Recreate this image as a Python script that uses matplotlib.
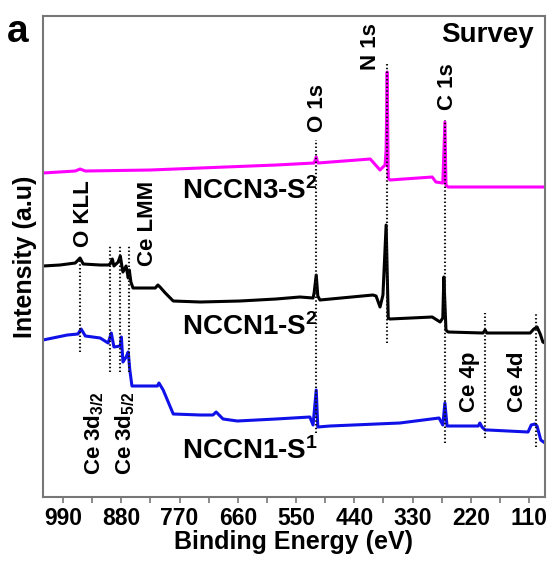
import numpy as np
import matplotlib.pyplot as plt

plt.rcParams['font.family'] = ['Liberation Sans', 'DejaVu Sans']
plt.rcParams['font.weight'] = 'bold'
plt.rcParams['mathtext.fontset'] = 'custom'
plt.rcParams['mathtext.rm'] = 'Liberation Sans:bold'
plt.rcParams['mathtext.bf'] = 'Liberation Sans:bold'
plt.rcParams['mathtext.it'] = 'Liberation Sans:bold'
plt.rcParams['mathtext.default'] = 'rm'

# Bindungsenergie [eV] und Intensitaet [a.u.]
ev_nccn3_s2 = [1028, 967, 958, 948, 826, 731, 588, 516, 512, 509, 410, 391.5, 382, 380,
               378, 376, 373, 293, 286, 273, 269, 267, 263, 80]
int_nccn3_s2 = [324, 326, 328, 326, 327, 329, 332, 334, 340, 334, 338, 327, 332, 347,
                425, 319, 317, 320, 315, 314, 375, 312, 310, 310]

ev_nccn1_s2 = [1028, 996, 967, 958, 952, 920, 905, 901, 897, 894, 886, 882, 879, 877,
               871, 867, 865, 862, 858, 816, 811, 807, 797, 782, 731, 656, 588, 543,
               518, 516, 512, 509, 505, 405, 399, 391.5, 386, 380, 376, 373, 293, 278,
               273, 271, 267, 263, 197, 193, 190, 108, 101, 95, 89, 84, 80]
int_nccn1_s2 = [231, 232, 234, 239, 233, 232, 232, 233, 238, 231, 235, 241, 231, 225,
                231, 219, 227, 215, 209, 209, 212, 210, 204, 196, 195, 196, 198, 200,
                199, 204, 222, 201, 197, 202, 201, 190, 202, 272, 179, 178, 180, 175,
                179, 220, 167, 165, 164, 167, 164, 164, 168, 170, 163, 155, 154]

ev_nccn1_s1 = [1028, 982, 962, 956, 948, 920, 905, 899, 894, 882, 880, 877, 871, 867,
               864, 860, 812, 809, 801, 782, 731, 707, 701, 688, 661, 588, 524, 518,
               512, 509, 486, 354, 280, 273, 269, 265, 206, 203, 199, 193, 188, 112,
               106, 99, 95, 88, 80]
int_nccn1_s1 = [157, 162, 163, 168, 161, 159, 154, 164, 150, 151, 160, 135, 140, 145,
                127, 111, 111, 114, 107, 83, 82, 82, 85, 78, 76, 78, 80, 72,
                107, 70, 71, 74, 79, 72, 94, 71, 71, 74, 70, 67, 67, 65,
                72, 73, 71, 57, 54]

# Peaklagen fuer die gepunkteten Hilfslinien
peak_ev = [958, 901, 882, 865, 512, 378, 269, 193, 97]
peak_lo = [145, 125, 125, 125, 64, 154, 54, 59, 50]
peak_hi = [239, 252, 252, 252, 357, 435, 377, 184, 184]

tick_values = [990, 880, 770, 660, 550, 440, 330, 220, 110]

fig = plt.figure(figsize=(5.56, 5.64), dpi=100)
ax = fig.add_axes([0.0773, 0.1188, 0.9029, 0.8528])

ax.plot(ev_nccn3_s2, int_nccn3_s2, color='#ff00ff', lw=2.2)
ax.plot(ev_nccn1_s2, int_nccn1_s2, color='black', lw=2.2)
ax.plot(ev_nccn1_s1, int_nccn1_s1, color='#1010e8', lw=2.2)

for e, lo, hi in zip(peak_ev, peak_lo, peak_hi):
    ax.plot([e, e], [lo, hi], color='#111111', lw=1.5, linestyle=(0, (0.7, 1.1)), zorder=3)

# Beschriftungen der Peaks
kw = dict(rotation=90, ha='center', va='center', fontsize=16, fontweight='bold')
ax.text(952, 283, 'O KLL', **kw)
ax.text(831, 274, 'Ce LMM', **kw)
ax.text(932, 64, 'Ce 3d$_{3/2}$', **kw)
ax.text(873, 64, 'Ce 3d$_{5/2}$', **kw)
ax.text(510, 389, 'O 1s', **kw)
ax.text(410, 450, 'N 1s', **kw)
ax.text(265, 410, 'C 1s', **kw)
ax.text(222, 115, 'Ce 4p', **kw)
ax.text(131, 115, 'Ce 4d', **kw)

ax.text(189, 462, 'Survey', ha='center', va='center', fontsize=20, fontweight='bold')
ax.text(765, 306, 'NCCN3-S$^{2}$', ha='left', va='center', fontsize=20, fontweight='bold')
ax.text(765, 170, 'NCCN1-S$^{2}$', ha='left', va='center', fontsize=20, fontweight='bold')
ax.text(765, 46, 'NCCN1-S$^{1}$', ha='left', va='center', fontsize=20, fontweight='bold')

ax.set_xlim(1028, 80)
ax.set_ylim(0, 481)
ax.set_xticks(tick_values)
ax.set_xticks([e - 55 for e in tick_values[:-1]], minor=True)
ax.set_xticklabels([str(t) for t in tick_values], fontsize=16.5, fontweight='bold')
ax.set_yticks([])
ax.tick_params(axis='x', which='both', direction='out', length=4, width=1.2,
               color='#777777', pad=3)

for s in ax.spines.values():
    s.set_color('#777777')
    s.set_linewidth(1.5)

ax.set_xlabel('Binding Energy (eV)', fontsize=18, fontweight='bold', labelpad=0)
ax.set_ylabel('Intensity (a.u)', fontsize=18, fontweight='bold', labelpad=4)

fig.text(0.012, 0.9255, 'a', fontsize=28, fontweight='bold', va='baseline')

fig.savefig('out.png', dpi=100)
